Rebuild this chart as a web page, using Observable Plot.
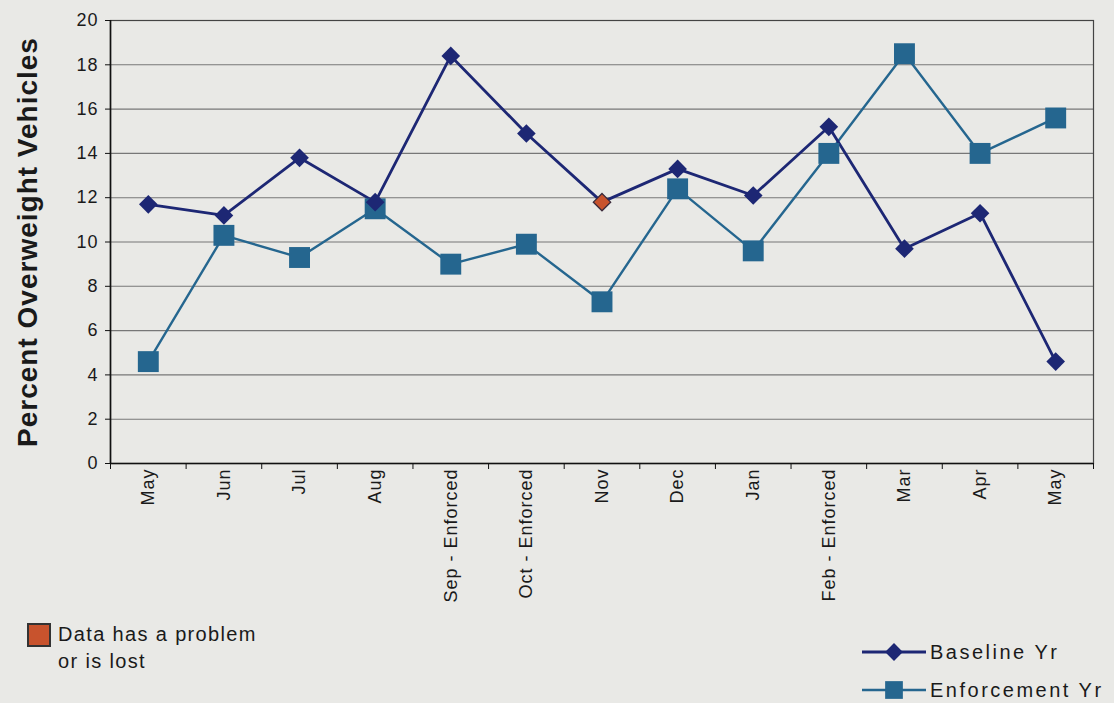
<!DOCTYPE html>
<html>
<head>
<meta charset="utf-8">
<script src="https://cdn.jsdelivr.net/npm/d3@7"></script>
<script src="https://cdn.jsdelivr.net/npm/@observablehq/plot@0.6"></script>
<style>
  html, body { margin: 0; padding: 0; background: #e9e9e6; }
  #wrap { position: relative; width: 1114px; height: 703px; overflow: hidden; background: #e9e9e6; font-family: "Liberation Sans", Arial, sans-serif; color: #1a1a1a; }
  #chart { position: absolute; left: 0; top: 0; }
  #chart svg text { letter-spacing: 1px; }
  .leg { position: absolute; font-family: "Liberation Sans", Arial, sans-serif; white-space: nowrap; }
</style>
</head>
<body>
<div id="wrap">
  <div id="chart"></div>
  <div class="leg" style="left:27px; top:623px; width:20px; height:20px; background:#c8532d; border:2px solid #333;"></div>
  <div class="leg" style="left:58px; top:621px; font-size:20px; line-height:27px; letter-spacing:1.35px;">Data has a problem<br>or is lost</div>
  <div class="leg" id="legB" style="left:860px; top:639px;"></div>
  <div class="leg" id="legE" style="left:860px; top:677px;"></div>
</div>
<script>
const months = ["May","Jun","Jul","Aug","Sep - Enforced","Oct - Enforced","Nov","Dec","Jan","Feb - Enforced","Mar","Apr","May"];
const baseline = [11.7, 11.2, 13.8, 11.8, 18.4, 14.9, 11.8, 13.3, 12.1, 15.2, 9.7, 11.3, 4.6];
const enforcement = [4.6, 10.3, 9.3, 11.5, 9.0, 9.9, 7.3, 12.4, 9.6, 14.0, 18.5, 14.0, 15.6];
const problemPoints = [6];
const yTicks = [0, 2, 4, 6, 8, 10, 12, 14, 16, 18, 20];
const seriesNames = ["Baseline Yr", "Enforcement Yr"];
const yTitle = "Percent Overweight Vehicles";

const baseColor = "#1d2774";
const enfColor = "#25668f";
const problemColor = "#c8532d";

const rows = months.map((m, i) => ({i, month: m, baseline: baseline[i], enforcement: enforcement[i], problem: problemPoints.includes(i)}));
const idx = d3.range(months.length);
const boundaries = d3.range(months.length + 1).map(i => i - 0.5);

const chart = Plot.plot({
  width: 1114,
  height: 703,
  marginLeft: 110,
  marginRight: 21,
  marginTop: 20,
  marginBottom: 240,
  style: {fontFamily: "Liberation Sans, Arial, sans-serif", fontSize: "18px", background: "transparent", color: "#1a1a1a", overflow: "visible"},
  x: {domain: [-0.5, months.length - 0.5]},
  y: {domain: [0, 20]},
  marks: [
    Plot.ruleY(yTicks.filter(d => d > 0 && d < 20), {stroke: "#777", strokeWidth: 1.1}),
    Plot.frame({stroke: "#444", strokeWidth: 1.2}),
    Plot.ruleX([-0.5], {stroke: "#111", strokeWidth: 1.6}),
    Plot.ruleY([0], {stroke: "#111", strokeWidth: 1.6}),
    Plot.axisY({ticks: yTicks, tickSize: 5, tickPadding: 7, label: null, fontSize: 18, stroke: "#111"}),
    Plot.axisX({ticks: boundaries, tickSize: 6, tickFormat: () => "", label: null, stroke: "#111"}),
    Plot.axisX({ticks: idx, tickFormat: i => months[i], tickRotate: -90, tickSize: 0, tickPadding: 5, label: null, fontSize: 18}),
    Plot.text([yTitle], {frameAnchor: "left", textAnchor: "middle", dx: -82, rotate: -90, fontSize: 28, fontWeight: "bold", fill: "#1a1a1a"}),
    Plot.line(rows, {x: "i", y: "enforcement", stroke: enfColor, strokeWidth: 2.4}),
    Plot.line(rows, {x: "i", y: "baseline", stroke: baseColor, strokeWidth: 2.8}),
    Plot.dot(rows, {x: "i", y: "enforcement", symbol: "square", r: 11.8, fill: enfColor}),
    Plot.dot(rows.filter(d => !d.problem), {x: "i", y: "baseline", symbol: "diamond2", r: 8.4, fill: baseColor}),
    Plot.dot(rows.filter(d => d.problem), {x: "i", y: "baseline", symbol: "diamond2", r: 7.8, fill: problemColor, stroke: "#3a2a3a", strokeWidth: 1.3})
  ]
});
document.getElementById("chart").appendChild(chart);

function legendItem(el, name, color, symbol, r, sw) {
  const svg = d3.create("svg").attr("width", 70).attr("height", 26).style("vertical-align", "middle");
  svg.append("line").attr("x1", 2).attr("x2", 66).attr("y1", 13).attr("y2", 13).attr("stroke", color).attr("stroke-width", sw);
  const sym = symbol === "square" ? d3.symbolSquare : d3.symbolDiamond2;
  svg.append("path").attr("transform", "translate(34,13)").attr("d", d3.symbol(sym, Math.PI * r * r)()).attr("fill", color);
  el.appendChild(svg.node());
  const span = document.createElement("span");
  span.textContent = name;
  span.style.fontSize = "20px";
  span.style.letterSpacing = "2.5px";
  span.style.verticalAlign = "middle";
  el.appendChild(span);
}
legendItem(document.getElementById("legB"), seriesNames[0], baseColor, "diamond2", 8, 2.8);
legendItem(document.getElementById("legE"), seriesNames[1], enfColor, "square", 10, 2.4);
</script>
</body>
</html>
